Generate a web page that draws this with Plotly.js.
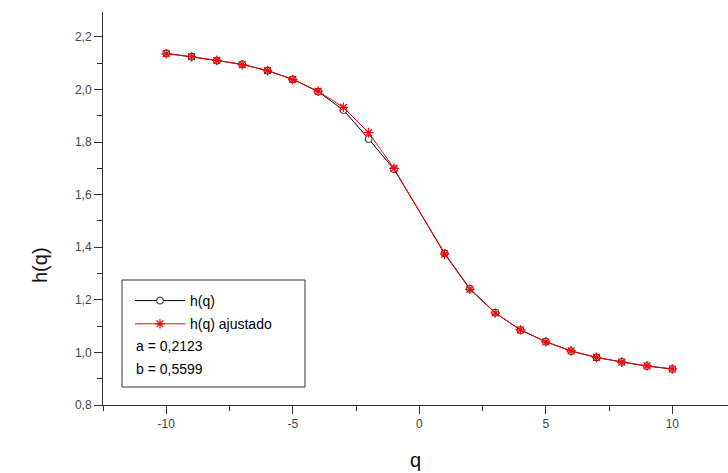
<!DOCTYPE html>
<html>
<head>
<meta charset="utf-8">
<script src="https://cdn.plot.ly/plotly-3.0.1.min.js"></script>
<style>html,body{margin:0;padding:0;background:#fff;}#chart{width:728px;height:473px;}</style>
</head>
<body>
<div id="chart"></div>
<script>
const q = [-10, -9, -8, -7, -6, -5, -4, -3, -2, -1, 1, 2, 3, 4, 5, 6, 7, 8, 9, 10];
const hq = [2.138, 2.125, 2.110, 2.096, 2.072, 2.039, 1.992, 1.922, 1.812, 1.697, 1.377, 1.242, 1.151, 1.085, 1.041, 1.005, 0.981, 0.964, 0.948, 0.937];
const hqFit = [2.136, 2.125, 2.111, 2.095, 2.072, 2.038, 1.994, 1.932, 1.836, 1.700, 1.374, 1.240, 1.150, 1.086, 1.040, 1.006, 0.981, 0.963, 0.949, 0.937];
const xTickVals = [-10, -5, 0, 5, 10];
const xTickText = ['-10', '-5', '0', '5', '10'];
const seriesNames = ['h(q)', 'h(q) ajustado'];
const paramLines = ['a = 0,2123', 'b = 0,5599'];

const W = 728, H = 473;
const L = 103, R = 0, T = 12, B = 68;
const pw = W - L - R, ph = H - T - B;
const px = v => (v - L) / pw;
const py = v => (H - B - v) / ph;

const traces = [
  {
    x: q, y: hq, name: seriesNames[0], type: 'scatter', mode: 'lines+markers',
    line: {color: '#000000', width: 1},
    marker: {symbol: 'circle', size: 7, color: '#ffffff', line: {width: 1, color: '#222222'}},
    legendgroup: 'a'
  },
  {
    x: q, y: hqFit, name: seriesNames[1], type: 'scatter', mode: 'lines+markers',
    line: {color: '#ff0000', width: 1},
    marker: {symbol: 'asterisk-open', size: 8, color: '#ff0000', line: {width: 1.2, color: '#ff0000'}},
    legendgroup: 'b'
  }
];

const font = 'Liberation Sans, Arial, sans-serif';
const layout = {
  width: W, height: H,
  margin: {l: L, r: R, t: T, b: B},
  paper_bgcolor: '#ffffff', plot_bgcolor: '#ffffff',
  separators: ',.',
  showlegend: true,
  legend: {
    x: px(130), y: py(285), xanchor: 'left', yanchor: 'top',
    bgcolor: 'rgba(0,0,0,0)', borderwidth: 0,
    font: {family: font, size: 14, color: '#000'},
    tracegroupgap: 2, itemwidth: 50
  },
  xaxis: {
    range: [-12.5, 12.2], showgrid: false, zeroline: false,
    showline: true, linecolor: '#333', linewidth: 1,
    ticks: 'outside', ticklen: 8, tickcolor: '#333', tickwidth: 1,
    tickvals: xTickVals, ticktext: xTickText,
    minor: {dtick: 2.5, tick0: 0, ticks: 'outside', ticklen: 5, tickcolor: '#333'},
    tickfont: {family: font, size: 12, color: '#444'},
    title: {text: 'q', font: {family: font, size: 20, color: '#111'}, standoff: 22}
  },
  yaxis: {
    range: [0.8, 2.295], showgrid: false, zeroline: false,
    showline: true, linecolor: '#333', linewidth: 1,
    ticks: 'outside', ticklen: 8, tickcolor: '#333', tickwidth: 1,
    tick0: 0.8, dtick: 0.2, tickformat: '.1f',
    minor: {dtick: 0.1, tick0: 0.8, ticks: 'outside', ticklen: 5, tickcolor: '#333'},
    tickfont: {family: font, size: 12, color: '#444'}
  },
  shapes: [
    {type: 'rect', xref: 'paper', yref: 'paper', x0: px(122), x1: px(305), y0: py(387), y1: py(280),
     line: {color: '#333', width: 1}, fillcolor: 'rgba(0,0,0,0)'}
  ],
  annotations: [
    {text: 'h(q)', xref: 'paper', yref: 'paper', x: px(40), y: py(265), textangle: -90,
     showarrow: false, xanchor: 'center', yanchor: 'middle',
     font: {family: font, size: 20, color: '#111'}},
    {text: paramLines[0], xref: 'paper', yref: 'paper', x: px(134), y: py(346),
     showarrow: false, xanchor: 'left', yanchor: 'middle', font: {family: font, size: 14, color: '#000'}},
    {text: paramLines[1], xref: 'paper', yref: 'paper', x: px(134), y: py(369),
     showarrow: false, xanchor: 'left', yanchor: 'middle', font: {family: font, size: 14, color: '#000'}}
  ]
};

Plotly.newPlot('chart', traces, layout, {displayModeBar: false, staticPlot: true});
</script>
</body>
</html>
